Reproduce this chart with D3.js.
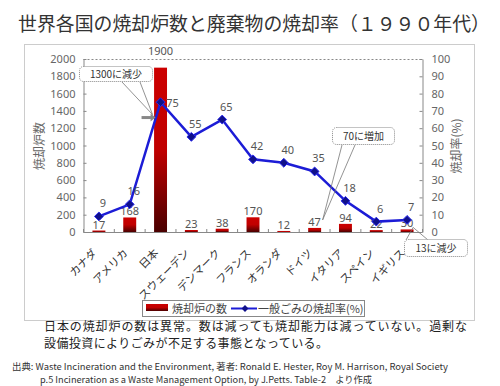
<!DOCTYPE html>
<html><head><meta charset="utf-8">
<script src="https://cdn.jsdelivr.net/npm/d3@7"></script>
<style>
html,body{margin:0;padding:0;background:#fff;}
svg{display:block;font-family:"Noto Sans CJK JP","Noto Sans",sans-serif;}
</style></head>
<body>
<svg id="c" width="500" height="386"></svg>
<script>
const categories = ["カナダ","アメリカ","日本","スウェーデン","デンマーク","フランス","オランダ","ドイツ","イタリア","スペイン","イギリス"];
const incinerators = [17,168,1900,23,38,170,12,47,94,22,30];
const rates = [9,16,75,55,65,42,40,35,18,6,7];
const leftTicks = [0,200,400,600,800,1000,1200,1400,1600,1800,2000];
const rightTicks = [0,10,20,30,40,50,60,70,80,90,100];
const titleText = "世界各国の焼却炉数と廃棄物の焼却率（１９９０年代）";
const leftTitle = "焼却炉数";
const rightTitle = "焼却率(%)";
const legendBar = "焼却炉の数";
const legendLine = "一般ごみの焼却率(%)";
const callouts = [
  {text:"1300に減少", cat:"日本"},
  {text:"70に増加", cat:"ドイツ"},
  {text:"13に減少", cat:"イギリス"}
];
const noteLines = ["日本の焼却炉の数は異常。数は減っても焼却能力は減っていない。過剰な","設備投資によりごみが不足する事態となっている。"];
const sourceLines = ["出典: Waste Incineration and the Environment, 著者: Ronald E. Hester, Roy M. Harrison, Royal Society","p.5 Incineration as a Waste Management  Option, by J.Petts. Table-2　より作成"];

const svg = d3.select("#c");
const gray = "#666";
const L = 83.5, R = 422.5, T = 59, B = 232;

const defs = svg.append("defs");
const gr = defs.append("linearGradient").attr("id","barg").attr("x1",0).attr("y1",0).attr("x2",0).attr("y2",1);
gr.append("stop").attr("offset","0").attr("stop-color","#cc0000");
gr.append("stop").attr("offset","0.5").attr("stop-color","#c00000");
gr.append("stop").attr("offset","1").attr("stop-color","#4a0000");

// title
svg.append("text").attr("x",18).attr("y",31).attr("font-size",19).attr("fill","#333")
  .attr("textLength",472).attr("lengthAdjust","spacingAndGlyphs").text(titleText);

// outer frame
svg.append("rect").attr("x",24.5).attr("y",44.5).attr("width",450).attr("height",276)
  .attr("fill","none").attr("stroke","#999").attr("stroke-dasharray","1,1");

const x = d3.scaleBand().domain(categories).range([L,R]).paddingInner(0.58).paddingOuter(0.29);
const yL = d3.scaleLinear().domain([0,2000]).range([B,T]);
const yR = d3.scaleLinear().domain([0,100]).range([B,T]);
const cx = c => x(c) + x.bandwidth()/2;

// top dashed line
svg.append("line").attr("x1",L).attr("x2",R).attr("y1",T+0.5).attr("y2",T+0.5)
  .attr("stroke","#888").attr("stroke-dasharray","2,2");

// left axis
const gl = svg.append("g").attr("transform",`translate(${L},0)`)
  .call(d3.axisLeft(yL).tickValues(leftTicks).tickFormat(d3.format("d")).tickSize(-3).tickPadding(8).tickSizeOuter(0));
gl.select(".domain").attr("stroke","#888");
gl.selectAll(".tick line").attr("stroke","#888");
gl.selectAll("text").attr("font-size",11).attr("fill",gray).attr("font-family","Noto Sans, sans-serif");

// right axis
const gR = svg.append("g").attr("transform",`translate(${R},0)`)
  .call(d3.axisRight(yR).tickValues(rightTicks).tickFormat(d3.format("d")).tickSize(-3).tickPadding(9).tickSizeOuter(0));
gR.select(".domain").attr("stroke","#888");
gR.selectAll(".tick line").attr("stroke","#888");
gR.selectAll("text").attr("font-size",11).attr("fill",gray).attr("font-family","Noto Sans, sans-serif");

// x axis
const gx = svg.append("g").attr("transform",`translate(0,${B})`);
gx.append("line").attr("x1",L).attr("x2",R).attr("y1",0.5).attr("y2",0.5).attr("stroke","#888");
const bounds = d3.range(categories.length+1).map(i => L + i*x.step());
gx.selectAll("line.tk").data(bounds).join("line").attr("class","tk")
  .attr("x1",d=>d).attr("x2",d=>d).attr("y1",0).attr("y2",-3).attr("stroke","#888");
gx.selectAll("text").data(categories).join("text")
  .attr("transform",d=>`translate(${cx(d)-4},${19}) rotate(-45)`)
  .attr("text-anchor","end").attr("dy","0.35em").attr("font-size",11).attr("fill","#333").text(d=>d);

// axis titles
svg.append("text").attr("transform","translate(44,146) rotate(-90)").attr("text-anchor","middle")
  .attr("font-size",12).attr("fill",gray).text(leftTitle);
svg.append("text").attr("transform","translate(461,146) rotate(-90)").attr("text-anchor","middle")
  .attr("font-size",12).attr("fill",gray).text(rightTitle);

// bars
svg.append("g").selectAll("rect").data(categories).join("rect")
  .attr("x",d=>x(d)).attr("width",x.bandwidth())
  .attr("y",(d,i)=>yL(incinerators[i])).attr("height",(d,i)=>B-yL(incinerators[i]))
  .attr("fill","url(#barg)");

// bar labels
svg.append("g").selectAll("text").data(categories).join("text")
  .attr("x",d=>cx(d)).attr("y",(d,i)=>{ const y = yL(incinerators[i]) - 2; return y < T + 12 ? T - 4 : y; })
  .attr("text-anchor","middle").attr("font-size",11).attr("fill","#555")
  .attr("font-family","Noto Sans, sans-serif").text((d,i)=>incinerators[i]);

// line
const pts = categories.map((c,i)=>[cx(c), yR(rates[i])]);
svg.append("path").attr("d",d3.line()(pts)).attr("fill","none").attr("stroke","#1c1cd6").attr("stroke-width",2.5);
svg.append("g").selectAll("path").data(pts).join("path")
  .attr("transform",d=>`translate(${d[0]},${d[1]})`)
  .attr("d",d3.symbol(d3.symbolDiamond2,50)).attr("fill","#10108a").attr("stroke","#2a2af0").attr("stroke-width",1);
svg.append("g").selectAll("text").data(categories).join("text")
  .attr("x",(d,i)=> yL(incinerators[i]) < yR(rates[i]) ? cx(d)+12 : cx(d)+4)
  .attr("y",(d,i)=> yL(incinerators[i]) < yR(rates[i]) ? yR(rates[i])+5 : yR(rates[i])-9)
  .attr("text-anchor","middle").attr("font-size",11).attr("fill","#555")
  .attr("font-family","Noto Sans, sans-serif").text((d,i)=>rates[i]);

// callouts
function callout(c, bx, by, bw, bh, tip, base1, base2){
  const g = svg.append("g");
  g.append("path").attr("d",`M${base1[0]},${base1[1]} L${tip[0]},${tip[1]} L${base2[0]},${base2[1]}`)
    .attr("fill","none").attr("stroke","#777").attr("stroke-width",0.8);
  g.append("rect").attr("x",bx).attr("y",by).attr("width",bw).attr("height",bh).attr("rx",4)
    .attr("fill","#fff").attr("stroke","#888").attr("stroke-dasharray","1,1");
  g.append("text").attr("x",bx+bw/2).attr("y",by+bh/2).attr("dy","0.36em").attr("text-anchor","middle")
    .attr("font-size",10).attr("fill","#333").text(c.text);
}
const jx = cx("日本"), gxc = cx("ドイツ"), ux = cx("イギリス");
// 1300 arrow
svg.append("line").attr("x1",jx-19).attr("x2",jx-9).attr("y1",yL(1300)-2).attr("y2",yL(1300)-2)
  .attr("stroke","#888").attr("stroke-width",3);
svg.append("path").attr("d",`M${jx-10},${yL(1300)-6} L${jx-5},${yL(1300)-2} L${jx-10},${yL(1300)+2}Z`).attr("fill","#888");
callout(callouts[0], 79.5, 66.5, 73, 15, [jx-8, yL(1300)-5], [122, 82], [140, 82]);
callout(callouts[1], 332.5, 127.5, 62, 17, [gxc+8, yL(incinerators[7])-8], [342, 145], [355, 145]);
callout(callouts[2], 404.5, 239.5, 63, 17, [ux+6, yL(incinerators[10])-2], [406, 240], [428, 240]);

// legend
const lg = svg.append("g");
lg.append("rect").attr("x",142.5).attr("y",300.5).attr("width",222).attr("height",16).attr("fill","#fff").attr("stroke","#888");
lg.append("rect").attr("x",146).attr("y",304).attr("width",22).attr("height",7).attr("fill","url(#barg)");
lg.append("text").attr("x",172).attr("y",309).attr("dy","0.36em").attr("font-size",11).attr("fill","#444").text(legendBar);
lg.append("line").attr("x1",231).attr("x2",257).attr("y1",308.5).attr("y2",308.5).attr("stroke","#1c1cd6").attr("stroke-width",2);
lg.append("path").attr("transform","translate(245,308.5)").attr("d",d3.symbol(d3.symbolDiamond2,30)).attr("fill","#10108a");
lg.append("text").attr("x",258).attr("y",309).attr("dy","0.36em").attr("font-size",11).attr("fill","#444").text(legendLine);

// notes
svg.append("g").selectAll("text").data(noteLines).join("text")
  .attr("x",44).attr("y",(d,i)=>330.5+i*17.5).attr("font-size",12).attr("fill","#222")
  .attr("textLength",(d,i)=>i===0?423:284).attr("lengthAdjust","spacing").text(d=>d);
svg.append("g").selectAll("text").data(sourceLines).join("text")
  .attr("x",(d,i)=>i===0?12:40).attr("y",(d,i)=>369.5+i*13).attr("font-size",9).attr("fill","#333")
  .attr("textLength",(d,i)=>i===0?436:332).attr("lengthAdjust","spacingAndGlyphs").text(d=>d);
</script>
</body></html>
